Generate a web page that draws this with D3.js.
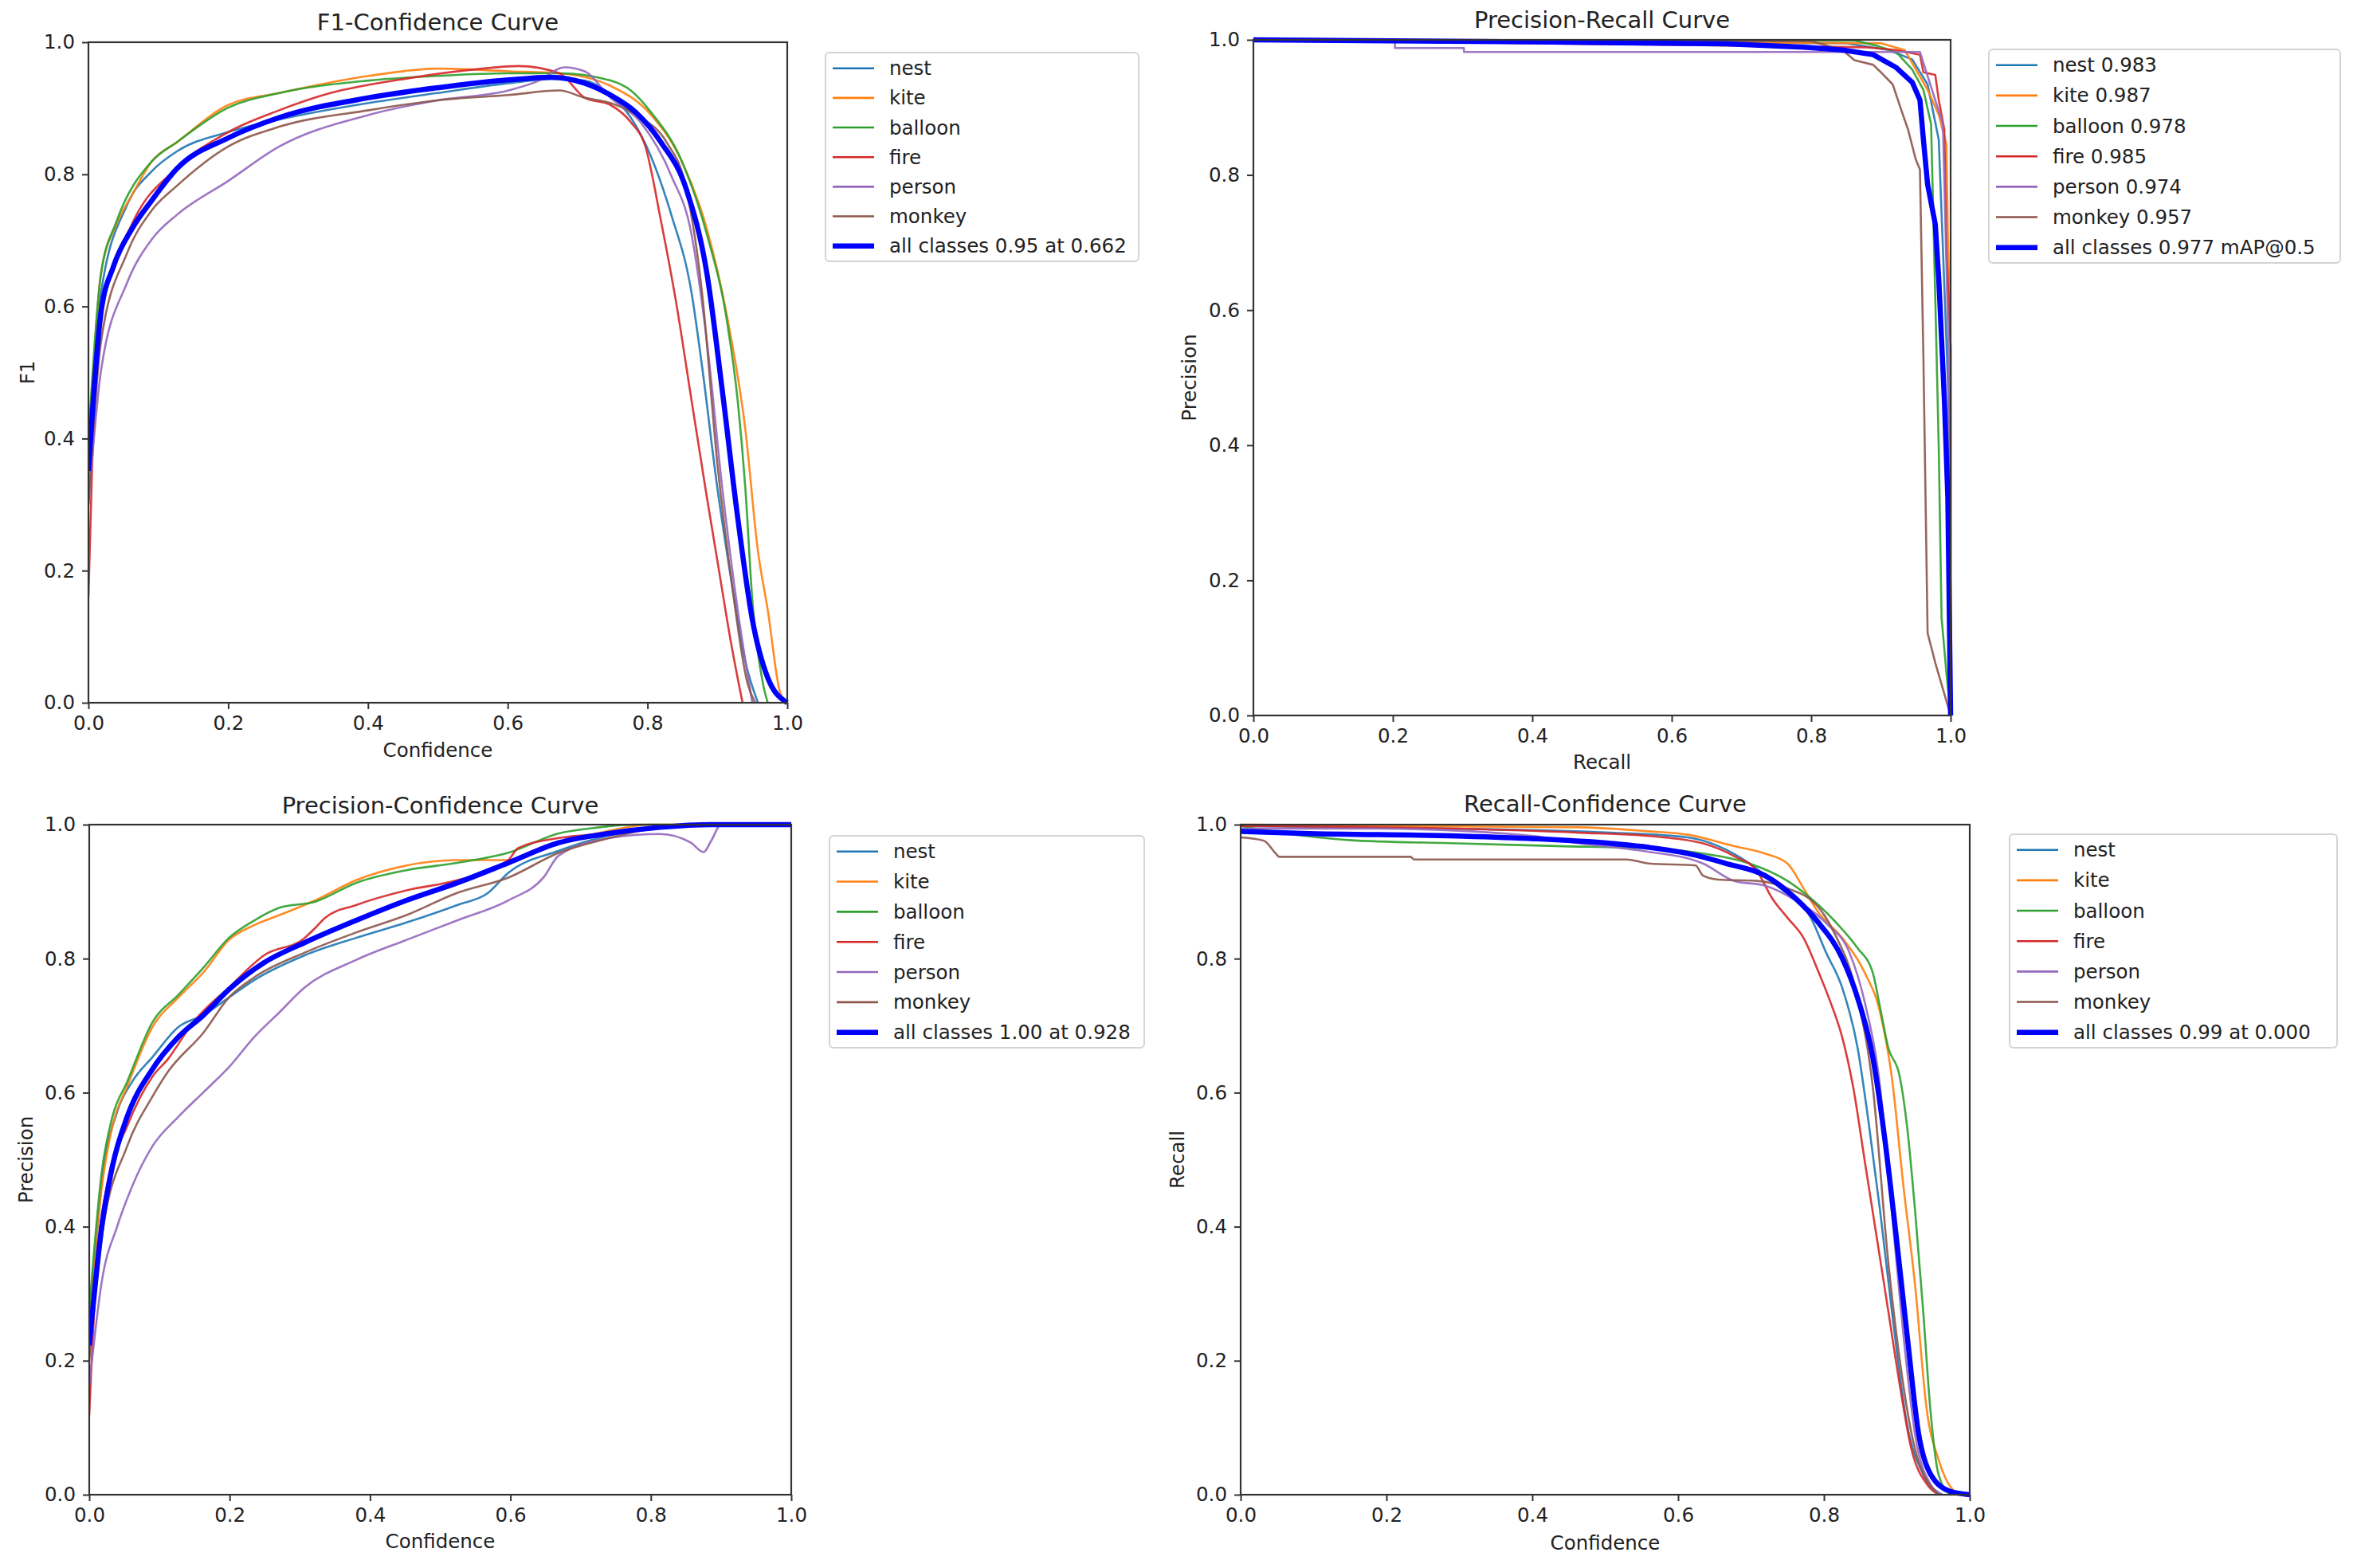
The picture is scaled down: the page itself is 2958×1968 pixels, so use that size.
<!DOCTYPE html>
<html>
<head>
<meta charset="utf-8">
<script src="https://cdn.jsdelivr.net/npm/d3@7"></script>
<style>
  body { margin: 0; background: #fff; }
  text { font-family: "DejaVu Sans", sans-serif; fill: #222; }
</style>
</head>
<body>
<svg width="2958" height="1968"></svg>
<script>
////////////////////////////// DATA //////////////////////////////

var classNames = ['nest', 'kite', 'balloon', 'fire', 'person', 'monkey'];
var classColors = ['#1f77b4', '#ff7f0e', '#2ca02c', '#d62728', '#9467bd', '#8c564b'];
var tickValues = [0, 0.2, 0.4, 0.6, 0.8, 1.0];

// F1-Confidence, [confidence, f1]
var f1Nest = [[0,0.38],[0.018,0.62],[0.055,0.753],[0.091,0.805],[0.127,0.835],[0.2,0.864],[0.273,0.883],[0.401,0.908],[0.499,0.923],[0.601,0.938],[0.674,0.945],[0.71,0.942],[0.747,0.92],[0.776,0.886],[0.805,0.827],[0.834,0.739],[0.863,0.621],[0.878,0.51],[0.9,0.325],[0.921,0.178],[0.936,0.082],[0.958,0]];
var f1Kite = [[0,0.38],[0.018,0.65],[0.04,0.724],[0.062,0.768],[0.091,0.82],[0.127,0.849],[0.2,0.905],[0.273,0.923],[0.401,0.949],[0.499,0.96],[0.601,0.956],[0.674,0.953],[0.747,0.934],[0.805,0.89],[0.849,0.82],[0.885,0.717],[0.914,0.584],[0.94,0.414],[0.958,0.23],[0.972,0.141],[0.99,0.015],[1,0]];
var f1Balloon = [[0,0.4],[0.018,0.65],[0.04,0.728],[0.091,0.82],[0.127,0.849],[0.2,0.901],[0.273,0.923],[0.401,0.942],[0.499,0.949],[0.601,0.953],[0.674,0.953],[0.747,0.942],[0.776,0.927],[0.805,0.894],[0.849,0.82],[0.885,0.709],[0.914,0.576],[0.929,0.458],[0.94,0.325],[0.95,0.156],[0.965,0.03],[0.972,0]];
var f1Fire = [[0,0.16],[0.005,0.35],[0.018,0.59],[0.062,0.724],[0.127,0.81],[0.2,0.864],[0.273,0.897],[0.346,0.923],[0.455,0.945],[0.564,0.96],[0.615,0.964],[0.674,0.953],[0.71,0.916],[0.747,0.905],[0.776,0.879],[0.797,0.842],[0.819,0.731],[0.841,0.606],[0.863,0.458],[0.885,0.311],[0.9,0.215],[0.921,0.082],[0.936,0]];
var f1Person = [[0,0.3],[0.018,0.503],[0.055,0.635],[0.091,0.702],[0.127,0.739],[0.2,0.79],[0.273,0.842],[0.401,0.89],[0.499,0.912],[0.601,0.927],[0.645,0.942],[0.681,0.962],[0.71,0.956],[0.747,0.916],[0.79,0.879],[0.834,0.798],[0.863,0.709],[0.885,0.547],[0.907,0.325],[0.929,0.141],[0.95,0]];
var f1Monkey = [[0,0.3],[0.018,0.547],[0.055,0.68],[0.091,0.746],[0.127,0.783],[0.2,0.842],[0.273,0.872],[0.401,0.897],[0.499,0.912],[0.601,0.92],[0.674,0.927],[0.71,0.916],[0.747,0.908],[0.79,0.886],[0.827,0.849],[0.856,0.776],[0.878,0.621],[0.9,0.362],[0.921,0.178],[0.943,0.03],[0.954,0]];
var f1All = [[0,0.351],[0.018,0.591],[0.036,0.661],[0.062,0.717],[0.091,0.761],[0.127,0.809],[0.2,0.855],[0.273,0.886],[0.401,0.916],[0.499,0.931],[0.601,0.943],[0.662,0.947],[0.71,0.938],[0.747,0.92],[0.783,0.894],[0.819,0.849],[0.856,0.776],[0.885,0.65],[0.907,0.473],[0.929,0.281],[0.95,0.126],[0.972,0.038],[1,0]];

// Precision-Recall, [recall, precision]
var prNest = [[0,1],[0.85,0.995],[0.911,0.985],[0.945,0.971],[0.967,0.934],[0.983,0.852],[0.989,0.69],[0.997,0.469],[1,0]];
var prKite = [[0,1],[0.9,0.995],[0.934,0.985],[0.967,0.926],[0.983,0.889],[0.994,0.845],[0.996,0.712],[1,0.543],[1,0]];
var prBalloon = [[0,1],[0.862,0.999],[0.895,0.991],[0.922,0.982],[0.945,0.956],[0.961,0.926],[0.972,0.875],[0.978,0.617],[0.983,0.395],[0.987,0.145],[0.994,0.063],[1,0]];
var prFire = [[0,1],[0.878,0.989],[0.922,0.985],[0.956,0.978],[0.961,0.952],[0.978,0.948],[0.983,0.911],[0.991,0.867],[0.994,0.69],[1,0.543],[1,0]];
var prPerson = [[0,1],[0.203,1],[0.203,0.988],[0.302,0.988],[0.302,0.982],[0.956,0.982],[0.989,0.875],[0.997,0.54],[1,0]];
var prMonkey = [[0,1],[0.8,0.998],[0.845,0.985],[0.862,0.97],[0.889,0.963],[0.9,0.952],[0.917,0.934],[0.928,0.9],[0.939,0.867],[0.95,0.823],[0.956,0.808],[0.961,0.528],[0.967,0.122],[0.978,0.078],[1,0]];
var prAll = [[0,1],[0.402,0.997],[0.679,0.994],[0.79,0.989],[0.845,0.985],[0.889,0.978],[0.922,0.959],[0.945,0.937],[0.956,0.911],[0.961,0.852],[0.967,0.786],[0.978,0.727],[0.983,0.646],[0.991,0.469],[0.996,0.322],[1,0]];

// Precision-Confidence, [confidence, precision]
var pNest = [[0,0.238],[0.018,0.468],[0.04,0.572],[0.061,0.616],[0.09,0.653],[0.127,0.698],[0.163,0.716],[0.199,0.742],[0.235,0.768],[0.307,0.805],[0.38,0.831],[0.452,0.854],[0.524,0.88],[0.568,0.898],[0.597,0.928],[0.669,0.961],[0.741,0.984],[0.813,0.996],[0.886,1],[1,1]];
var pKite = [[0,0.26],[0.018,0.46],[0.033,0.55],[0.054,0.609],[0.09,0.698],[0.127,0.742],[0.163,0.78],[0.199,0.828],[0.235,0.85],[0.271,0.865],[0.322,0.887],[0.38,0.917],[0.452,0.939],[0.524,0.947],[0.597,0.947],[0.669,0.973],[0.741,0.991],[0.799,1],[1,1]];
var pBalloon = [[0,0.275],[0.018,0.483],[0.033,0.564],[0.054,0.616],[0.09,0.705],[0.127,0.746],[0.163,0.787],[0.199,0.831],[0.235,0.857],[0.271,0.876],[0.322,0.885],[0.38,0.913],[0.452,0.932],[0.524,0.943],[0.597,0.958],[0.669,0.987],[0.719,0.995],[0.777,1],[1,1]];
var pFire = [[0,0.119],[0.011,0.349],[0.025,0.46],[0.054,0.55],[0.09,0.624],[0.112,0.65],[0.148,0.705],[0.199,0.757],[0.249,0.805],[0.307,0.831],[0.322,0.846],[0.336,0.861],[0.38,0.88],[0.452,0.902],[0.524,0.917],[0.597,0.947],[0.611,0.965],[0.669,0.98],[0.741,0.987],[0.813,0.996],[0.886,1],[1,1]];
var pPerson = [[0,0.163],[0.018,0.319],[0.04,0.401],[0.061,0.46],[0.09,0.52],[0.127,0.564],[0.163,0.601],[0.199,0.638],[0.235,0.683],[0.271,0.72],[0.307,0.757],[0.38,0.798],[0.452,0.828],[0.524,0.857],[0.597,0.887],[0.647,0.921],[0.669,0.954],[0.741,0.98],[0.813,0.986],[0.857,0.973],[0.875,0.959],[0.886,0.976],[0.9,1],[1,1]];
var pMonkey = [[0,0.2],[0.018,0.386],[0.054,0.52],[0.09,0.594],[0.112,0.631],[0.163,0.69],[0.199,0.742],[0.235,0.772],[0.307,0.809],[0.38,0.839],[0.452,0.865],[0.524,0.898],[0.597,0.921],[0.669,0.958],[0.741,0.98],[0.777,0.989],[0.813,0.996],[0.886,1],[1,1]];
var pAll = [[0,0.223],[0.018,0.401],[0.033,0.49],[0.054,0.564],[0.09,0.635],[0.127,0.683],[0.163,0.716],[0.199,0.754],[0.249,0.794],[0.307,0.824],[0.38,0.857],[0.452,0.887],[0.524,0.913],[0.597,0.943],[0.669,0.973],[0.741,0.987],[0.813,0.996],[0.886,1],[1,1]];

// Recall-Confidence, [confidence, recall]
var rNest = [[0,0.998],[0.296,0.994],[0.507,0.988],[0.613,0.981],[0.655,0.968],[0.698,0.942],[0.74,0.905],[0.782,0.861],[0.803,0.809],[0.825,0.757],[0.846,0.668],[0.862,0.55],[0.877,0.424],[0.893,0.276],[0.914,0.105],[0.936,0.031],[0.962,0]];
var rKite = [[0,1],[0.19,0.998],[0.465,0.996],[0.56,0.99],[0.613,0.985],[0.677,0.968],[0.719,0.957],[0.75,0.942],[0.772,0.905],[0.793,0.868],[0.825,0.831],[0.856,0.779],[0.877,0.72],[0.893,0.624],[0.909,0.461],[0.925,0.313],[0.941,0.127],[0.957,0.053],[0.967,0.024],[0.983,0]];
var rBalloon = [[0,0.998],[0.042,0.99],[0.106,0.981],[0.148,0.977],[0.296,0.972],[0.433,0.968],[0.571,0.964],[0.634,0.957],[0.698,0.942],[0.75,0.916],[0.782,0.89],[0.814,0.857],[0.846,0.816],[0.867,0.779],[0.877,0.727],[0.888,0.668],[0.904,0.624],[0.914,0.55],[0.925,0.424],[0.936,0.276],[0.946,0.127],[0.957,0.031],[0.973,0]];
var rFire = [[0,0.998],[0.296,0.994],[0.465,0.988],[0.56,0.983],[0.634,0.972],[0.677,0.953],[0.708,0.931],[0.729,0.89],[0.75,0.861],[0.772,0.831],[0.793,0.779],[0.809,0.735],[0.825,0.683],[0.84,0.609],[0.856,0.498],[0.872,0.387],[0.888,0.276],[0.904,0.164],[0.92,0.068],[0.941,0.016],[0.957,0]];
var rPerson = [[0,0.994],[0.19,0.994],[0.402,0.983],[0.465,0.972],[0.55,0.961],[0.634,0.942],[0.677,0.916],[0.719,0.909],[0.761,0.887],[0.803,0.853],[0.835,0.809],[0.856,0.735],[0.877,0.609],[0.893,0.424],[0.909,0.239],[0.925,0.09],[0.946,0.016],[0.962,0]];
var rMonkey = [[0,0.981],[0.032,0.976],[0.048,0.957],[0.053,0.952],[0.233,0.952],[0.238,0.948],[0.529,0.948],[0.56,0.942],[0.624,0.939],[0.634,0.924],[0.655,0.918],[0.708,0.916],[0.75,0.905],[0.793,0.876],[0.814,0.839],[0.846,0.742],[0.867,0.609],[0.888,0.35],[0.904,0.201],[0.925,0.068],[0.957,0]];
var rAll = [[0,0.99],[0.085,0.987],[0.296,0.983],[0.402,0.979],[0.507,0.972],[0.56,0.966],[0.613,0.957],[0.666,0.942],[0.719,0.924],[0.761,0.89],[0.793,0.853],[0.825,0.801],[0.846,0.742],[0.867,0.653],[0.883,0.535],[0.899,0.387],[0.914,0.239],[0.93,0.09],[0.946,0.031],[0.973,0.005],[1,0]];

// legend labels
var prLabels = ['nest 0.983', 'kite 0.987', 'balloon 0.978', 'fire 0.985', 'person 0.974', 'monkey 0.957'];
var f1AllLabel = 'all classes 0.95 at 0.662';
var prAllLabel = 'all classes 0.977 mAP@0.5';
var pAllLabel = 'all classes 1.00 at 0.928';
var rAllLabel = 'all classes 0.99 at 0.000';

////////////////////////////// LAYOUT //////////////////////////////

var svg = d3.select('svg');

var panels = [
  {title: 'F1-Confidence Curve', xlab: 'Confidence', ylab: 'F1',
   box: [111, 988, 53, 882], titleY: 28, xlabY: 941, ylabX: 34,
   legend: [1036, 66, 393, 262],
   series: [f1Nest, f1Kite, f1Balloon, f1Fire, f1Person, f1Monkey], all: f1All,
   labels: classNames, allLabel: f1AllLabel, smooth: true},
  {title: 'Precision-Recall Curve', xlab: 'Recall', ylab: 'Precision',
   box: [1573, 2448, 50, 898], titleY: 25, xlabY: 956, ylabX: 1492,
   legend: [2496, 62, 441, 268],
   series: [prNest, prKite, prBalloon, prFire, prPerson, prMonkey], all: prAll,
   labels: prLabels, allLabel: prAllLabel, smooth: false},
  {title: 'Precision-Confidence Curve', xlab: 'Confidence', ylab: 'Precision',
   box: [112, 993, 1035, 1876], titleY: 1011, xlabY: 1934, ylabX: 32,
   legend: [1041, 1049, 395, 266],
   series: [pNest, pKite, pBalloon, pFire, pPerson, pMonkey], all: pAll,
   labels: classNames, allLabel: pAllLabel, smooth: true},
  {title: 'Recall-Confidence Curve', xlab: 'Confidence', ylab: 'Recall',
   box: [1557, 2472, 1035, 1876], titleY: 1009, xlabY: 1936, ylabX: 1477,
   legend: [2522, 1047, 411, 268],
   series: [rNest, rKite, rBalloon, rFire, rPerson, rMonkey], all: rAll,
   labels: classNames, allLabel: rAllLabel, smooth: true}
];

////////////////////////////// DRAW //////////////////////////////

function drawPanel(p) {
  var x = d3.scaleLinear().domain([0, 1]).range([p.box[0], p.box[1]]);
  var y = d3.scaleLinear().domain([0, 1]).range([p.box[3], p.box[2]]);
  var g = svg.append('g');

  // confidence curves are drawn smooth, PR curves as plain polylines
  var line = d3.line().x(function(d) { return x(d[0]); }).y(function(d) { return y(d[1]); })
      .curve(p.smooth ? d3.curveMonotoneX : d3.curveLinear);

  // clip so lines stay inside the axes
  var clipId = 'clip' + Math.round(p.box[0]) + '_' + Math.round(p.box[2]);
  svg.append('clipPath').attr('id', clipId).append('rect')
      .attr('x', p.box[0]).attr('y', p.box[2] - 4)
      .attr('width', p.box[1] - p.box[0] + 4).attr('height', p.box[3] - p.box[2] + 8);
  var lines = g.append('g').attr('clip-path', 'url(#' + clipId + ')');

  p.series.forEach(function(s, i) {
    lines.append('path').datum(s)
      .attr('fill', 'none').attr('stroke', classColors[i]).attr('stroke-opacity', 0.9)
      .attr('stroke-width', 2.6).attr('stroke-linejoin', 'round')
      .attr('d', line);
  });
  lines.append('path').datum(p.all)
    .attr('fill', 'none').attr('stroke', '#0000ff')
    .attr('stroke-width', 6.5).attr('stroke-linejoin', 'round')
    .attr('d', line);

  // axes
  var xAxis = g.append('g').attr('transform', 'translate(0,' + p.box[3] + ')')
      .call(d3.axisBottom(x).tickValues(tickValues).tickFormat(d3.format('.1f')).tickSize(8).tickPadding(9));
  var yAxis = g.append('g').attr('transform', 'translate(' + p.box[0] + ',0)')
      .call(d3.axisLeft(y).tickValues(tickValues).tickFormat(d3.format('.1f')).tickSize(8).tickPadding(9));
  [xAxis, yAxis].forEach(function(a) {
    a.select('.domain').remove();
    a.selectAll('line').attr('stroke', '#333').attr('stroke-width', 2);
    a.selectAll('text').attr('font-size', 24.5).attr('font-family', 'DejaVu Sans').attr('fill', '#222');
  });

  // frame
  g.append('rect').attr('x', p.box[0]).attr('y', p.box[2])
    .attr('width', p.box[1] - p.box[0]).attr('height', p.box[3] - p.box[2])
    .attr('fill', 'none').attr('stroke', '#333').attr('stroke-width', 2.2);

  // texts
  g.append('text').attr('x', (p.box[0] + p.box[1]) / 2).attr('y', p.titleY)
    .attr('text-anchor', 'middle').attr('dominant-baseline', 'central')
    .attr('font-size', 29).text(p.title);
  g.append('text').attr('x', (p.box[0] + p.box[1]) / 2).attr('y', p.xlabY)
    .attr('text-anchor', 'middle').attr('dominant-baseline', 'central')
    .attr('font-size', 24.5).text(p.xlab);
  g.append('text').attr('transform', 'translate(' + p.ylabX + ',' + (p.box[2] + p.box[3]) / 2 + ') rotate(-90)')
    .attr('text-anchor', 'middle').attr('dominant-baseline', 'central')
    .attr('font-size', 24.5).text(p.ylab);

  // legend
  var L = p.legend;
  var leg = g.append('g');
  leg.append('rect').attr('x', L[0]).attr('y', L[1]).attr('width', L[2]).attr('height', L[3])
    .attr('rx', 5).attr('fill', '#fff').attr('stroke', '#d4d4d4').attr('stroke-width', 2);
  var rows = p.labels.map(function(t, i) { return {t: t, c: classColors[i], w: 2.6}; });
  rows.push({t: p.allLabel, c: '#0000ff', w: 6.5});
  var rowGap = (L[3] - 39) / 6;
  rows.forEach(function(r, i) {
    var cy = L[1] + 19.7 + i * rowGap;
    leg.append('line').attr('x1', L[0] + 9).attr('x2', L[0] + 61)
      .attr('y1', cy).attr('y2', cy).attr('stroke', r.c).attr('stroke-width', r.w);
    leg.append('text').attr('x', L[0] + 80).attr('y', cy)
      .attr('dominant-baseline', 'central').attr('font-size', 24.5).text(r.t);
  });
}

panels.forEach(drawPanel);
</script>
</body>
</html>
